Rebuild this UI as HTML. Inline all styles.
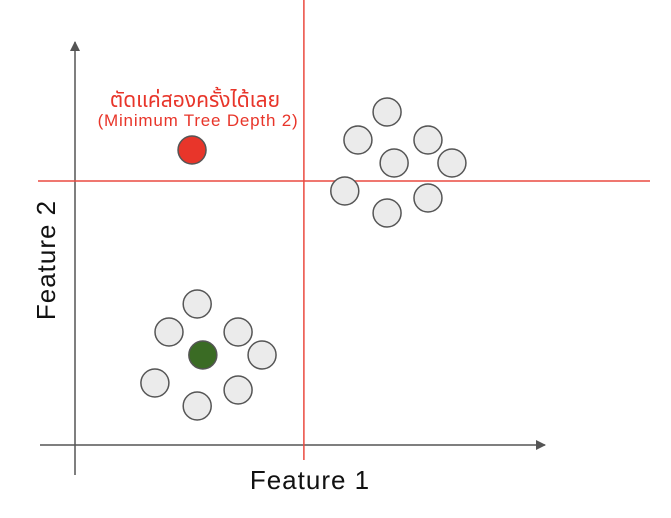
<!DOCTYPE html>
<html><head><meta charset="utf-8"><style>body{margin:0;background:#fff}svg{display:block}</style></head>
<body>
<svg id="chart" width="671" height="518" viewBox="0 0 671 518" xmlns="http://www.w3.org/2000/svg">
<defs><marker id="ar" markerWidth="10" markerHeight="10" refX="9" refY="5" orient="auto" markerUnits="userSpaceOnUse"><path d="M0,0 L10,5 L0,10 z" fill="#555"/></marker></defs>
<g id="axes"></g><g id="splits"></g><g id="points"></g>
<text x="195" y="107" text-anchor="middle" font-family="'Liberation Sans','Noto Sans Thai','DejaVu Sans',sans-serif" font-size="21" fill="#e8352a">ตัดแค่สองครั้งได้เลย</text>
<text x="198" y="126" text-anchor="middle" font-family="'Liberation Sans',sans-serif" font-size="17" letter-spacing="0.8" fill="#e8352a">(Minimum Tree Depth 2)</text>
<text x="310" y="489" text-anchor="middle" font-family="'Liberation Sans',sans-serif" font-size="26" letter-spacing="1" fill="#111">Feature 1</text>
<text transform="translate(55,260) rotate(-90)" text-anchor="middle" font-family="'Liberation Sans',sans-serif" font-size="26" letter-spacing="1" fill="#111">Feature 2</text>
</svg>
<script>
const grayX=[26,20,34.7,39.8,17,34.7,26,66.4,60.2,75.1,67.9,80.2,57.4,75.1,66.4];
const grayY=[35.25,28.25,28.25,22.5,15.5,13.75,9.75,83.25,76.25,76.25,70.5,70.5,63.5,61.75,58];
const greenX=[27.2], greenY=[22.5];
const redX=[24.9], redY=[73.75];
const splitX=[48.7], splitY=[66];
const sx=v=>75+v*4.7, sy=v=>445-v*4;
const NS='http://www.w3.org/2000/svg';
function mk(t,a,p){const e=document.createElementNS(NS,t);for(const k in a)e.setAttribute(k,a[k]);p.appendChild(e);return e;}
const ax=document.getElementById('axes');
let l=mk('line',{x1:75,y1:475,x2:75,y2:42,stroke:'#555','stroke-width':1.5,'marker-end':'url(#ar)'},ax);


l=mk('line',{x1:40,y1:445,x2:545,y2:445,stroke:'#555','stroke-width':1.5,'marker-end':'url(#ar)'},ax);


const sp=document.getElementById('splits');
splitX.forEach(v=>{const e=mk('line',{x1:sx(v),y1:0,x2:sx(v),y2:460,stroke:'#ea4a40','stroke-width':1.5},sp);

});
splitY.forEach(v=>{const e=mk('line',{x1:38,y1:sy(v),x2:650,y2:sy(v),stroke:'#ea4a40','stroke-width':1.5},sp);

});
const pg=document.getElementById('points');
function pts(X,Y,fill,name){X.forEach((v,i)=>{const c=mk('circle',{cx:sx(v),cy:sy(Y[i]),r:14,fill:fill,stroke:'#555','stroke-width':1.5},pg);

});}
pts(grayX,grayY,'#ebebeb','gray-point');
pts(greenX,greenY,'#3a6b24','green-point');
pts(redX,redY,'#e8352a','red-point');
</script>
</body></html>
